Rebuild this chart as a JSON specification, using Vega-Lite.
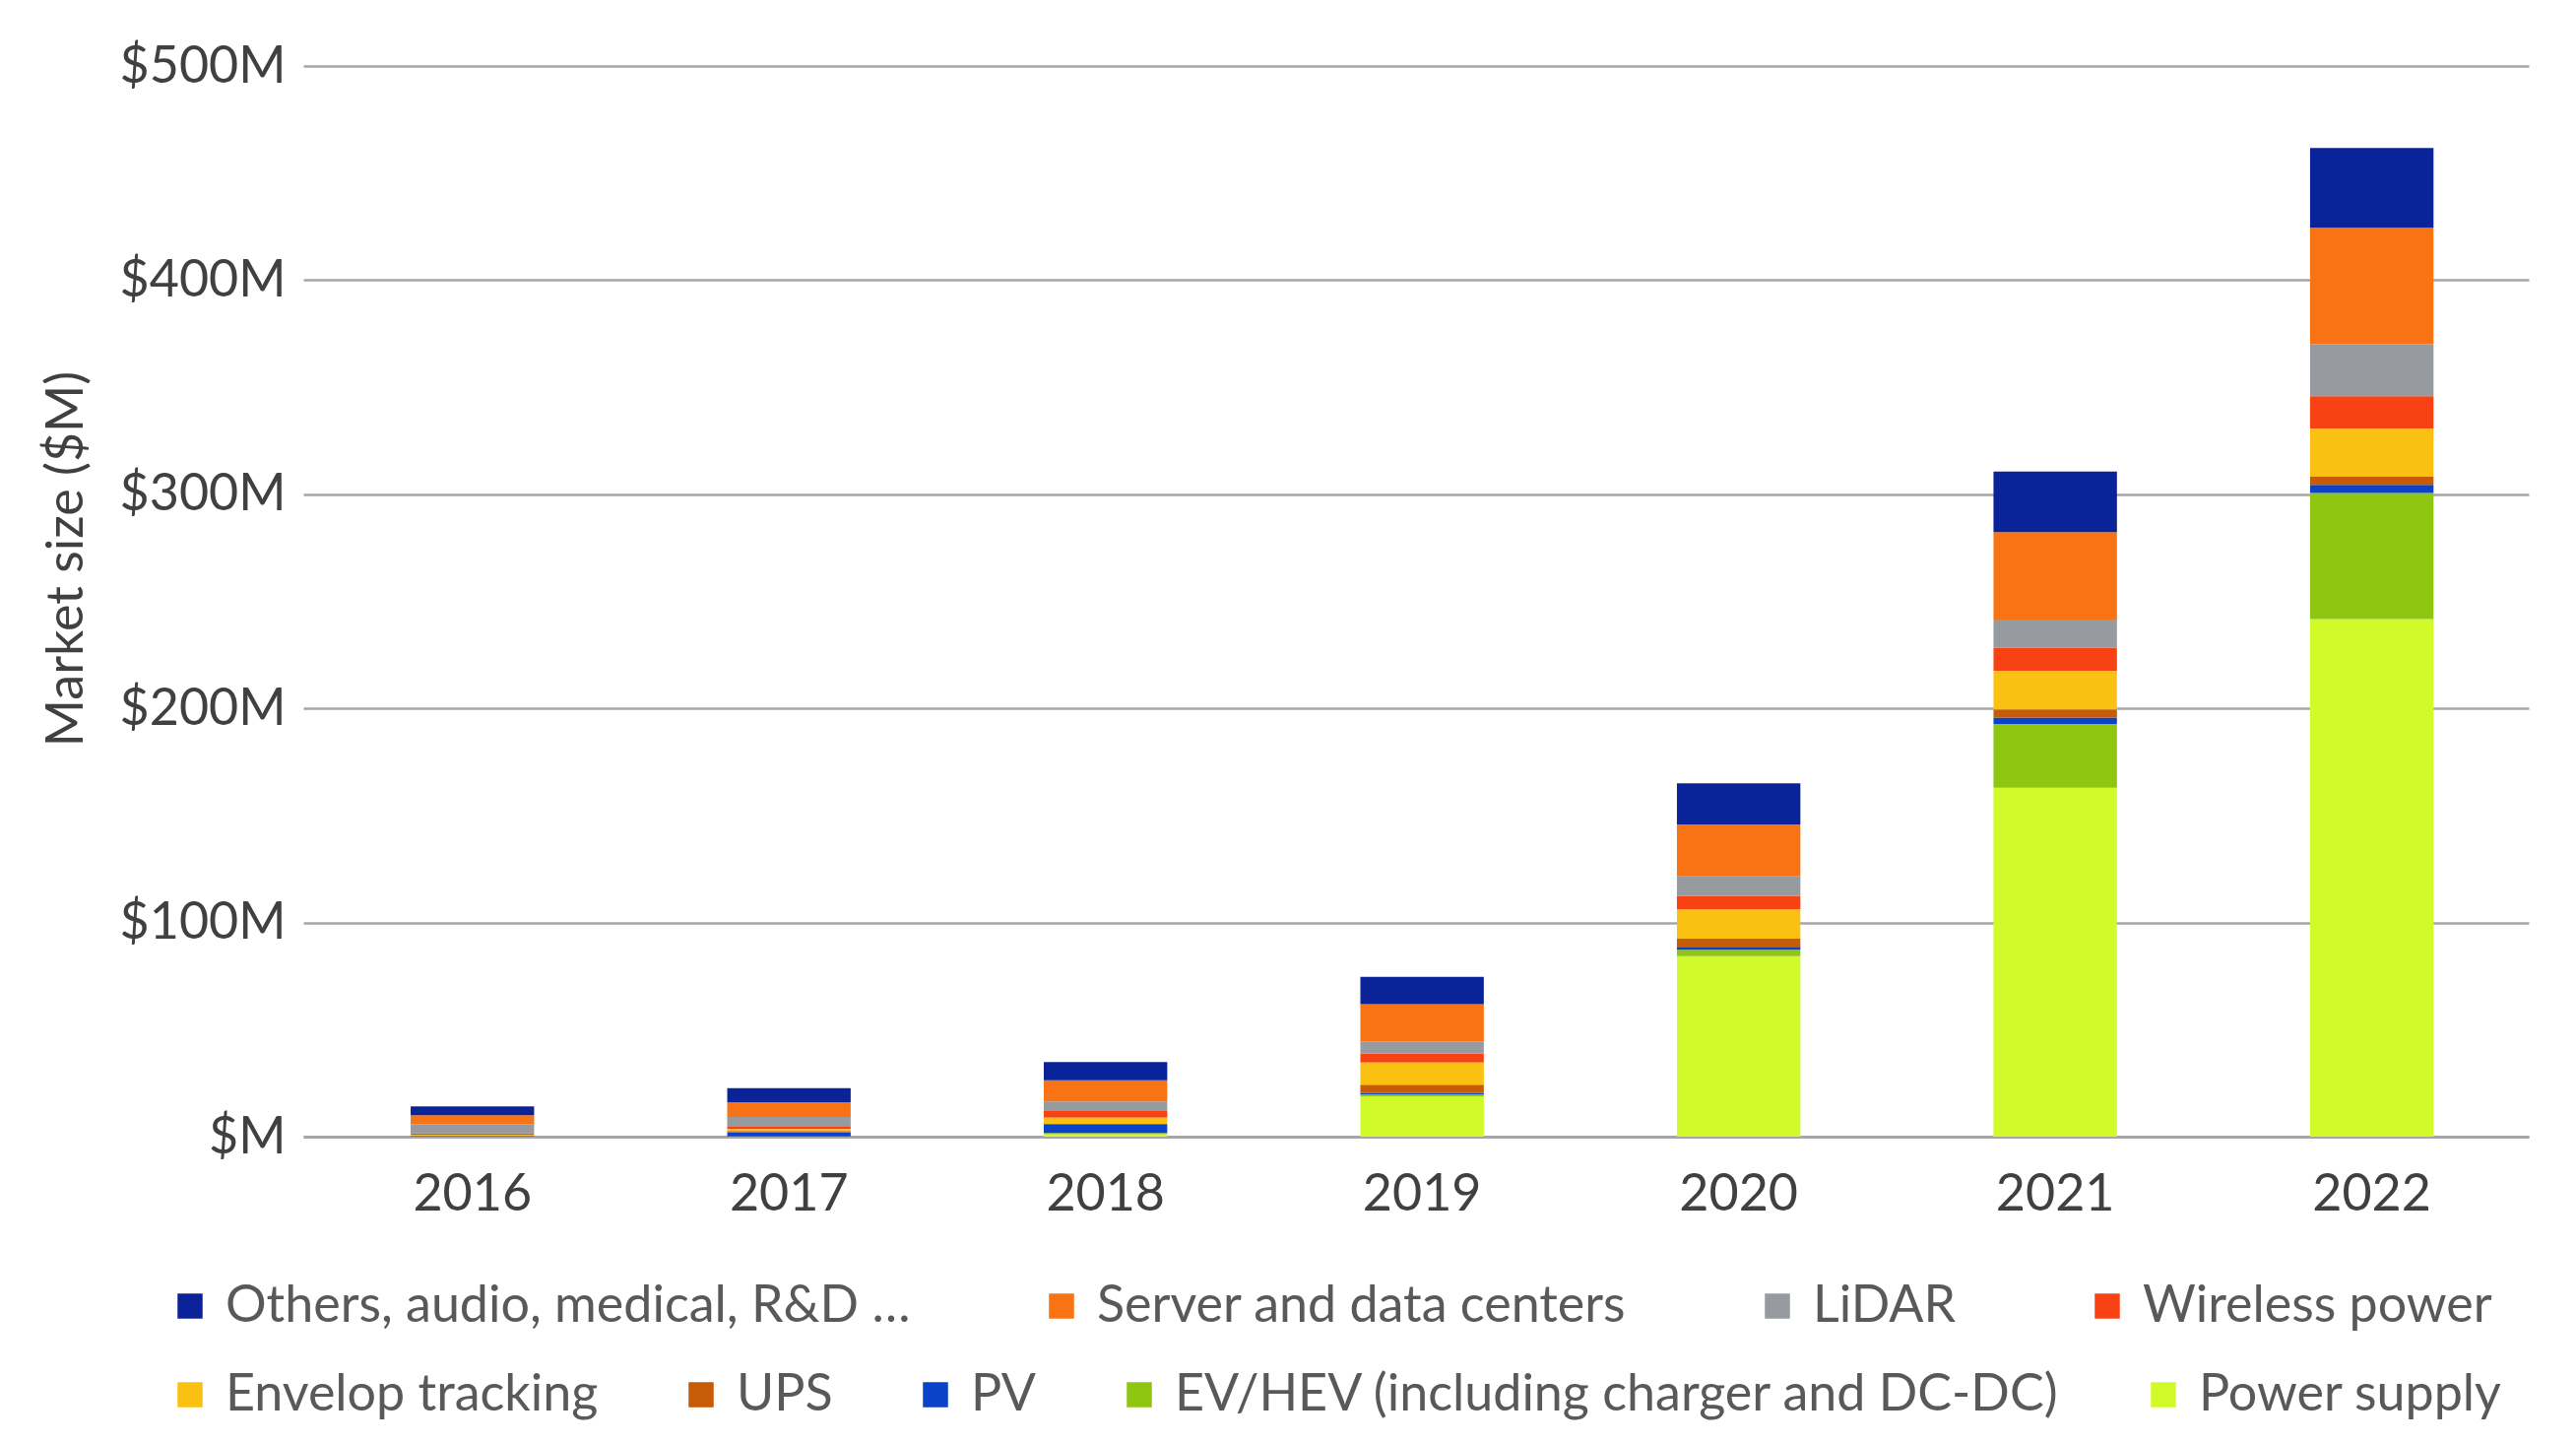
{
  "$schema": "https://vega.github.io/schema/vega-lite/v6.json",
  "width": 2260,
  "height": 1087,
  "autosize": {"type": "none"},
  "padding": {"left": 308, "top": 67, "right": 48, "bottom": 311},
  "background": "white",
  "data": {
    "values": [
      {"year": "2016", "segment": "Power supply", "value": 0},
      {"year": "2016", "segment": "EV/HEV (including charger and DC-DC)", "value": 0},
      {"year": "2016", "segment": "PV", "value": 0.1},
      {"year": "2016", "segment": "UPS", "value": 0.4},
      {"year": "2016", "segment": "Envelop tracking", "value": 0.3},
      {"year": "2016", "segment": "Wireless power", "value": 0.7},
      {"year": "2016", "segment": "LiDAR", "value": 4.3},
      {"year": "2016", "segment": "Server and data centers", "value": 4.2},
      {"year": "2016", "segment": "Others, audio, medical, R&D …", "value": 4.2},
      {"year": "2017", "segment": "Power supply", "value": 0},
      {"year": "2017", "segment": "EV/HEV (including charger and DC-DC)", "value": 0.1},
      {"year": "2017", "segment": "PV", "value": 2.0},
      {"year": "2017", "segment": "UPS", "value": 0.5},
      {"year": "2017", "segment": "Envelop tracking", "value": 0.8},
      {"year": "2017", "segment": "Wireless power", "value": 1.5},
      {"year": "2017", "segment": "LiDAR", "value": 4.3},
      {"year": "2017", "segment": "Server and data centers", "value": 6.9},
      {"year": "2017", "segment": "Others, audio, medical, R&D …", "value": 6.6},
      {"year": "2018", "segment": "Power supply", "value": 1.1},
      {"year": "2018", "segment": "EV/HEV (including charger and DC-DC)", "value": 0.6},
      {"year": "2018", "segment": "PV", "value": 3.8},
      {"year": "2018", "segment": "UPS", "value": 0.5},
      {"year": "2018", "segment": "Envelop tracking", "value": 2.9},
      {"year": "2018", "segment": "Wireless power", "value": 3.4},
      {"year": "2018", "segment": "LiDAR", "value": 4.2},
      {"year": "2018", "segment": "Server and data centers", "value": 9.8},
      {"year": "2018", "segment": "Others, audio, medical, R&D …", "value": 8.5},
      {"year": "2019", "segment": "Power supply", "value": 18.8},
      {"year": "2019", "segment": "EV/HEV (including charger and DC-DC)", "value": 1.0},
      {"year": "2019", "segment": "PV", "value": 0.7},
      {"year": "2019", "segment": "UPS", "value": 3.8},
      {"year": "2019", "segment": "Envelop tracking", "value": 10.3},
      {"year": "2019", "segment": "Wireless power", "value": 4.1},
      {"year": "2019", "segment": "LiDAR", "value": 5.7},
      {"year": "2019", "segment": "Server and data centers", "value": 17.5},
      {"year": "2019", "segment": "Others, audio, medical, R&D …", "value": 12.7},
      {"year": "2020", "segment": "Power supply", "value": 84.3},
      {"year": "2020", "segment": "EV/HEV (including charger and DC-DC)", "value": 3.0},
      {"year": "2020", "segment": "PV", "value": 1.4},
      {"year": "2020", "segment": "UPS", "value": 3.8},
      {"year": "2020", "segment": "Envelop tracking", "value": 13.8},
      {"year": "2020", "segment": "Wireless power", "value": 6.1},
      {"year": "2020", "segment": "LiDAR", "value": 9.1},
      {"year": "2020", "segment": "Server and data centers", "value": 24.3},
      {"year": "2020", "segment": "Others, audio, medical, R&D …", "value": 19.2},
      {"year": "2021", "segment": "Power supply", "value": 162.9},
      {"year": "2021", "segment": "EV/HEV (including charger and DC-DC)", "value": 29.8},
      {"year": "2021", "segment": "PV", "value": 3.0},
      {"year": "2021", "segment": "UPS", "value": 3.8},
      {"year": "2021", "segment": "Envelop tracking", "value": 17.9},
      {"year": "2021", "segment": "Wireless power", "value": 11.0},
      {"year": "2021", "segment": "LiDAR", "value": 13.1},
      {"year": "2021", "segment": "Server and data centers", "value": 40.8},
      {"year": "2021", "segment": "Others, audio, medical, R&D …", "value": 28.3},
      {"year": "2022", "segment": "Power supply", "value": 241.7},
      {"year": "2022", "segment": "EV/HEV (including charger and DC-DC)", "value": 58.9},
      {"year": "2022", "segment": "PV", "value": 3.8},
      {"year": "2022", "segment": "UPS", "value": 4.0},
      {"year": "2022", "segment": "Envelop tracking", "value": 22.2},
      {"year": "2022", "segment": "Wireless power", "value": 15.2},
      {"year": "2022", "segment": "LiDAR", "value": 24.3},
      {"year": "2022", "segment": "Server and data centers", "value": 54.4},
      {"year": "2022", "segment": "Others, audio, medical, R&D …", "value": 37.2}
    ]
  },
  "transform": [
    {
      "calculate": "indexof(['Power supply', 'EV/HEV (including charger and DC-DC)', 'PV', 'UPS', 'Envelop tracking', 'Wireless power', 'LiDAR', 'Server and data centers', 'Others, audio, medical, R&D …'], datum.segment)",
      "as": "rank"
    },
    {
      "stack": "value",
      "groupby": ["year"],
      "sort": [{"field": "rank", "order": "ascending"}],
      "as": ["v0", "v1"]
    }
  ],
  "encoding": {
    "x": {
      "field": "year",
      "type": "ordinal",
      "scale": {"paddingInner": 0.61, "paddingOuter": 0.32, "align": 0.53},
      "axis": {
        "title": null,
        "labelAngle": 0,
        "labelFontSize": 52,
        "labelColor": "#404040",
        "labelPadding": 33,
        "labelDx": 9,
        "ticks": false,
        "domainColor": "#a6a6a6",
        "domainWidth": 3
      }
    },
    "y": {
      "field": "v0",
      "type": "quantitative",
      "scale": {"domain": [0, 500], "nice": false},
      "axis": {
        "title": "Market size ($M)",
        "values": [0, 100, 200, 300, 400, 500],
        "labelExpr": "datum.value == 0 ? '$M' : '$' + datum.value + 'M'",
        "labelFontSize": 52,
        "labelColor": "#404040",
        "labelPadding": 18,
        "ticks": false,
        "domain": false,
        "grid": true,
        "gridColor": "#a6a6a6",
        "gridWidth": 2.5,
        "titleFontSize": 52,
        "titleFontWeight": "normal",
        "titleColor": "#404040",
        "titleX": -241,
        "titleY": 500,
        "titleBaseline": "middle",
        "titleAlign": "center"
      }
    },
    "y2": {"field": "v1"}
  },
  "layer": [
    {
      "transform": [{"filter": "datum.rank >= 5"}],
      "mark": {"type": "bar"},
      "encoding": {
        "color": {
          "field": "segment",
          "type": "nominal",
          "scale": {
            "domain": ["Others, audio, medical, R&D …", "Server and data centers", "LiDAR", "Wireless power"],
            "range": ["#0b2399", "#f77314", "#979a9e", "#f94214"]
          },
          "legend": {
            "title": null,
            "orient": "none",
            "direction": "horizontal",
            "legendX": -141,
            "legendY": 1233,
            "columnPadding": 127
          }
        }
      }
    },
    {
      "transform": [{"filter": "datum.rank < 5"}],
      "mark": {"type": "bar"},
      "encoding": {
        "color": {
          "field": "segment",
          "type": "nominal",
          "scale": {
            "domain": ["Envelop tracking", "UPS", "PV", "EV/HEV (including charger and DC-DC)", "Power supply"],
            "range": ["#fbc112", "#c65b08", "#0a42c8", "#8ec611", "#d0fa28"]
          },
          "legend": {
            "title": null,
            "orient": "none",
            "direction": "horizontal",
            "legendX": -141,
            "legendY": 1323,
            "columnPadding": 78
          }
        }
      }
    }
  ],
  "resolve": {"scale": {"color": "independent"}},
  "config": {
    "font": "Lato",
    "view": {"stroke": null},
    "axis": {"labelFont": "Lato", "titleFont": "Lato"},
    "legend": {
      "labelFont": "Lato",
      "labelFontSize": 52,
      "labelColor": "#595959",
      "labelLimit": 1200,
      "symbolType": "square",
      "symbolSize": 650,
      "symbolStrokeWidth": 0,
      "labelOffset": 10,
      "gridAlign": "none"
    }
  }
}
